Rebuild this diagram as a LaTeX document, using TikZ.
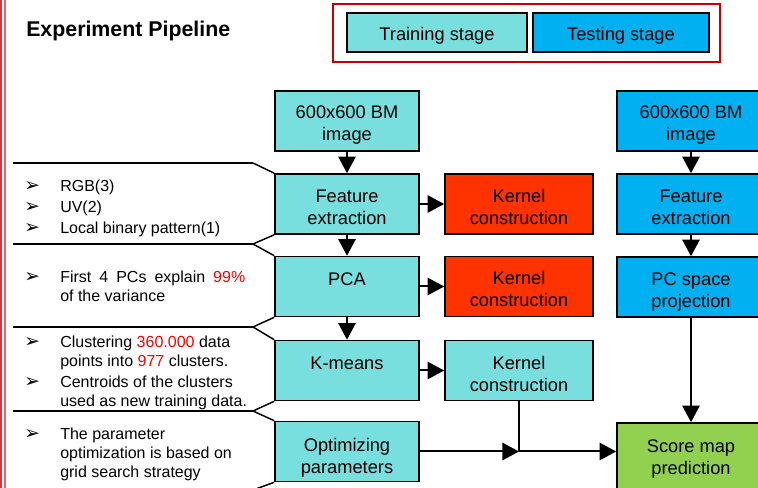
\documentclass[tikz,border=0pt]{standalone}
\usepackage{fontspec}
\setmainfont{Liberation Sans}
\newfontfamily\dingfont{DejaVu Sans}
\usetikzlibrary{arrows.meta}
\definecolor{trainc}{RGB}{121,223,222}
\definecolor{testc}{RGB}{0,176,240}
\definecolor{kernc}{RGB}{255,51,0}
\definecolor{scorec}{RGB}{146,208,80}
\definecolor{framec}{RGB}{200,0,0}
\definecolor{rulec}{RGB}{215,55,65}
\definecolor{hilite}{RGB}{255,0,0}
\newcommand{\hl}[1]{\textcolor{hilite}{#1}}
\begin{document}
\begin{tikzpicture}[x=0.75pt,y=-0.75pt,
  box/.style={draw=black, line width=1.2pt, inner sep=0pt, minimum height=45pt},
  trainbox/.style={box, fill=trainc, minimum width=108pt},
  widebox/.style={box, minimum width=111pt},
  boxtext/.style={align=center, inner sep=0pt, font=\fontsize{13.7}{16.5}\selectfont},
  legbox/.style={draw=black, line width=1.2pt, inner sep=0pt,
    font=\fontsize{13.7}{16.5}\selectfont, minimum height=29.25pt,
    execute at begin node={\rule{0pt}{15pt}}},
  flow/.style={line width=1.5pt, -{Triangle[length=12.5pt,width=13pt]}},
  note/.style={anchor=base west, inner sep=0pt, font=\fontsize{12}{14.25}\selectfont},
  bul/.style={anchor=base west, inner sep=0pt, font=\dingfont\fontsize{14}{16}\selectfont},
  divider/.style={line width=1.5pt},
  pointer/.style={line width=1.1pt}
]
\useasboundingbox (0,0) rectangle (758,488);
\begin{scope}
\clip (0,0) rectangle (758,488);

% double rule on the left edge
\draw[rulec, line width=1.1pt] (0.8,0) -- (0.8,488);
\draw[rulec!75, line width=1.6pt] (4.6,0) -- (4.6,488);

% heading and legend
\node[anchor=base west, inner sep=0pt, font=\fontsize{16}{19}\selectfont\bfseries] (title) at (26,37) {Experiment Pipeline};
\node[draw=framec, line width=1.5pt, minimum width=290.25pt, minimum height=43.5pt, inner sep=0pt] (legend) at (526.5,33) {};
\node[legbox, fill=trainc, minimum width=135pt] (legtrain) at (437,32.5) {Training stage};
\node[legbox, fill=testc, minimum width=132pt] (legtest) at (621,32.5) {Testing stage};

% training column
\node[trainbox] (img1) at (347,121) {};
\node[trainbox] (fe1)  at (347,204) {};
\node[trainbox] (pca)  at (347,286.5) {};
\node[trainbox] (km)   at (347,370.5) {};
\node[trainbox] (opt)  at (347,451.5) {};

% kernel column
\node[widebox, fill=kernc]  (ker1) at (519,204) {};
\node[widebox, fill=kernc]  (ker2) at (519,286.5) {};
\node[widebox, fill=trainc] (ker3) at (519,370.5) {};

% testing column
\node[widebox, fill=testc]  (img2)  at (691,121) {};
\node[widebox, fill=testc]  (fe2)   at (691,204) {};
\node[widebox, fill=testc]  (pcp)   at (691,287) {};
\node[widebox, fill=scorec, minimum height=49.5pt] (score) at (691,456) {};

% box captions
\node[boxtext] (img1t) at ([yshift=-3pt]img1.center) {600x600 BM\\image};
\node[boxtext] (fe1t)  at ([yshift=-2.4pt]fe1.center) {Feature\\extraction};
\node[boxtext] (pcat)  at ([yshift=-2.4pt]pca.center) {PCA\\\mbox{}};
\node[boxtext] (kmt)   at ([yshift=-2.8pt]km.center) {K-means\\\mbox{}};
\node[boxtext] (optt)  at ([yshift=-4.8pt]opt.center) {Optimizing\\parameters};
\node[boxtext] (ker1t) at ([yshift=-2.5pt]ker1.center) {Kernel\\construction};
\node[boxtext] (ker2t) at ([yshift=-1.8pt]ker2.center) {Kernel\\construction};
\node[boxtext] (ker3t) at ([yshift=-2.4pt]ker3.center) {Kernel\\construction};
\node[boxtext] (img2t) at ([yshift=-3pt]img2.center) {600x600 BM\\image};
\node[boxtext] (fe2t)  at ([yshift=-2.4pt]fe2.center) {Feature\\extraction};
\node[boxtext] (pcpt)  at ([yshift=-4pt]pcp.center) {PC space\\projection};
\node[boxtext] (scoret) at ([yshift=-2.5pt]score.center) {Score map\\prediction};

% flow arrows
\draw[flow] (img1) -- (fe1);
\draw[flow] (fe1) -- (pca);
\draw[flow] (pca) -- (km);
\draw[flow] (fe1) -- (ker1);
\draw[flow] (pca) -- (ker2);
\draw[flow] (km) -- (ker3);
\draw[flow] (opt.east) -- (opt.east -| ker3.south);
\draw[flow] (ker3.south) |- (opt.east -| score.west);
\draw[flow] (img2) -- (fe2);
\draw[flow] (fe2) -- (pcp);
\draw[flow] (pcp) -- (score);

% separators of the notes and their pointers to the boxes
\foreach \i/\yy in {1/163,2/244,3/327,4/411,5/490}{
  \coordinate (l\i) at (13,\yy);
  \coordinate (d\i) at (253,\yy);
  \draw[divider] (l\i) -- (d\i);
}
\draw[pointer] (d1) -- (fe1.north west);
\draw[pointer] (fe1.south west) -- (d2) -- (pca.north west);
\draw[pointer] (pca.south west) -- (d3) -- (km.north west);
\draw[pointer] (km.south west) -- (d4) -- (opt.north west);
\draw[pointer] (opt.south west) -- (d5);

% notes
\node[bul] (b1) at (24,192) {➢};
\node[note] (n1) at (60,192) {RGB(3)};
\node[bul] (b2) at (24,212.5) {➢};
\node[note] (n2) at (60,212.5) {UV(2)};
\node[bul] (b3) at (24,234) {➢};
\node[note] (n3) at (60,234) {Local binary pattern(1)};

\node[bul] (b4) at (24,283) {➢};
\node[note] (n4) at (60,283) {\parbox[t]{138.75pt}{\makebox[\linewidth][s]{First 4 PCs explain \hl{99\%}}\\of the variance}};

\node[bul] (b5) at (24,348) {➢};
\node[note] (n5) at (60,348) {\parbox[t]{150pt}{Clustering \hl{360.000} data\\points into \hl{977} clusters.}};
\node[bul] (b6) at (24,388) {➢};
\node[note] (n6) at (60,388) {\parbox[t]{150pt}{Centroids of the clusters\\used as new training data.}};

\node[bul] (b7) at (24,440) {➢};
\node[note] (n7) at (60,440) {\parbox[t]{150pt}{The parameter\\optimization is based on\\grid search strategy}};
\end{scope}
\end{tikzpicture}
\end{document}
